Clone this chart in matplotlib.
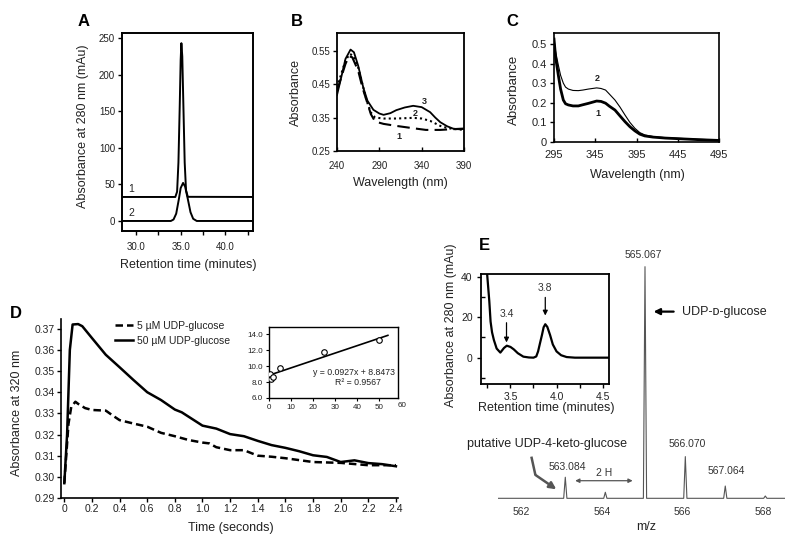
import numpy as np
import matplotlib
matplotlib.use("Agg")
import matplotlib.pyplot as plt
from matplotlib.ticker import FormatStrFormatter, FuncFormatter

plt.rcParams['font.family'] = ['Liberation Sans', 'DejaVu Sans']
plt.rcParams['text.color'] = '#222222'
plt.rcParams['xtick.color'] = 'black'
plt.rcParams['ytick.color'] = 'black'
plt.rcParams['xtick.labelcolor'] = '#222222'
plt.rcParams['ytick.labelcolor'] = '#222222'

# ---- data ----
# A: HPLC traces
a_t1 = [28.4, 34.4, 34.6, 34.75, 34.9, 35.0, 35.08, 35.18, 35.3, 35.45, 35.6, 35.8, 43.1]
a_y1 = [32.8, 32.8, 40, 80, 160, 220, 243, 225, 160, 80, 42, 33, 32.8]
a_t2 = [28.4, 33.9, 34.2, 34.5, 34.8, 35.0, 35.27, 35.5, 35.8, 36.1, 36.4, 36.8, 43.1]
a_y2 = [0, 0, 2, 10, 30, 45, 52, 47, 30, 12, 3, 0, 0]

# B: UV spectra
b_wl3 = [240, 245, 250, 256, 260, 265, 271, 276, 283, 290, 295, 303, 310, 320, 330, 340, 350, 356, 362, 370, 377, 383, 390]
b_ab3 = [0.417, 0.47, 0.525, 0.553, 0.545, 0.505, 0.44, 0.40, 0.373, 0.362, 0.358, 0.363, 0.372, 0.38, 0.385, 0.381,
         0.366, 0.35, 0.336, 0.324, 0.317, 0.315, 0.316]
b_wl2 = [240, 245, 250, 255, 259, 265, 270, 275, 280, 285, 295, 310, 320, 330, 340, 350, 362, 370, 377, 390]
b_ab2 = [0.44, 0.48, 0.52, 0.54, 0.535, 0.50, 0.45, 0.40, 0.365, 0.35, 0.347, 0.347, 0.348, 0.349, 0.347, 0.34,
         0.325, 0.319, 0.316, 0.313]
b_wl1 = [240, 245, 250, 254, 258, 265, 270, 275, 280, 285, 295, 310, 330, 345, 362, 375, 390]
b_ab1 = [0.43, 0.47, 0.51, 0.533, 0.53, 0.49, 0.44, 0.40, 0.36, 0.338, 0.331, 0.325, 0.318, 0.313, 0.313, 0.315, 0.317]

# C: spectra
c_wl = [295, 297, 300.2, 303, 306.3, 309, 312.4, 318, 324.5, 330, 336.6, 346.7, 352, 357.5, 362, 368.9, 375, 381,
        387, 393, 399, 405, 415, 430, 445, 470, 495]
c_ab2 = [0.525, 0.46, 0.393, 0.34, 0.30, 0.28, 0.27, 0.263, 0.262, 0.265, 0.27, 0.276, 0.273, 0.265, 0.245, 0.214,
         0.178, 0.138, 0.10, 0.07, 0.048, 0.036, 0.028, 0.022, 0.019, 0.014, 0.01]
c_ab1 = [0.525, 0.43, 0.342, 0.27, 0.214, 0.195, 0.189, 0.184, 0.184, 0.19, 0.197, 0.209, 0.207, 0.198, 0.183, 0.163,
         0.133, 0.104, 0.078, 0.057, 0.04, 0.031, 0.025, 0.02, 0.017, 0.012, 0.008]

# D: stopped-flow kinetics
d_t50 = [0, 0.02, 0.04, 0.06, 0.1, 0.13, 0.2, 0.3, 0.4, 0.5, 0.6, 0.7, 0.8, 0.85, 0.9, 1.0, 1.1, 1.2, 1.3, 1.4,
         1.5, 1.6, 1.7, 1.8, 1.9, 2.0, 2.1, 2.2, 2.3, 2.4]
d_a50 = [0.297, 0.32, 0.36, 0.372, 0.3722, 0.3712, 0.3656, 0.3577, 0.3518, 0.3458, 0.340, 0.3363, 0.3318, 0.3305,
         0.3284, 0.3242, 0.3228, 0.3202, 0.3192, 0.317, 0.315, 0.3137, 0.3121, 0.3102, 0.3094, 0.307, 0.3078,
         0.3065, 0.306, 0.305]
d_t5 = [0, 0.03, 0.05, 0.08, 0.1, 0.15, 0.2, 0.3, 0.35, 0.4, 0.5, 0.6, 0.7, 0.8, 0.9, 1.0, 1.05, 1.1, 1.2, 1.3,
        1.4, 1.5, 1.6, 1.8, 2.0, 2.2, 2.4]
d_a5 = [0.297, 0.325, 0.333, 0.3355, 0.3345, 0.3325, 0.3316, 0.3313, 0.329, 0.3268, 0.3252, 0.3237, 0.3208,
        0.3192, 0.3174, 0.3162, 0.3158, 0.314, 0.3126, 0.3126, 0.310, 0.3095, 0.3088, 0.307, 0.3066, 0.3055, 0.3055]
d_labels = ['5 µM UDP-glucose', '50 µM UDP-glucose']

# D inset: rate vs concentration
di_conc = [0.5, 1, 2, 5, 25, 50]
di_rate = [9.0, 8.4, 8.6, 9.7, 11.8, 13.3]
fit_slope, fit_icpt = 0.0927, 8.8473
fit_x = [0, 54]

# E inset: HPLC
e_t = [3.24, 3.27, 3.284, 3.30, 3.32, 3.35, 3.39, 3.43, 3.46, 3.50, 3.536, 3.58, 3.64, 3.70, 3.75, 3.78, 3.80,
       3.82, 3.842, 3.86, 3.878, 3.90, 3.93, 3.96, 4.0, 4.05, 4.11, 4.2, 4.6]
e_a = [45, 28, 17.8, 12.5, 8.7, 4.5, 2.5, 4.8, 5.9, 5.3, 4.1, 2.2, 0.5, 0.1, 0.0, 0.6, 3.1, 7.0, 11.2, 15.0,
       16.5, 15.2, 11.2, 6.5, 3.1, 1.2, 0.3, 0, 0]

# E: mass spectrum peaks (relative intensity)
ms_mz = [563.084, 564.08, 565.067, 566.070, 567.064, 568.06]
ms_int = [9.1, 2.6, 100, 18.0, 5.3, 1.0]
ms_lab = ['563.084', '', '565.067', '566.070', '567.064', '']

W, H = 800, 539


def box(l, t, r, b):
    return [l / W, 1 - b / H, (r - l) / W, (b - t) / H]


def ftext(px, py, s, size=9, rot=0, **kw):
    fig.text(px / W, 1 - py / H, s, fontsize=size, rotation=rot, ha='center', va='center', **kw)


def frame(ax, lw=1.2):
    for s in ax.spines.values():
        s.set_linewidth(lw)


fig = plt.figure(figsize=(8, 5.39), dpi=100)

# ---------------- A ----------------
ax = fig.add_axes(box(122, 33, 253, 231))
ax.plot(a_t1, a_y1, color='k', lw=1.4)
ax.plot(a_t2, a_y2, color='k', lw=1.4)
ax.set_xlim(28.43, 43.1)
ax.set_ylim(-13.7, 256.9)
ax.set_yticks(range(0, 251, 50))
ax.set_xticks([30, 35, 40])
ax.set_xticks([32.5, 37.5, 42.5], minor=True)
ax.xaxis.set_major_formatter(FormatStrFormatter('%.1f'))
ax.tick_params(axis='y', direction='out', length=3, width=1, labelsize=7, pad=2)
ax.tick_params(axis='x', which='both', direction='out', length=3, width=1, labelsize=7, pad=5)
frame(ax, 1.4)
ax.text(29.5, 44, '1', fontsize=7.5, ha='center', va='center')
ax.text(29.5, 11, '2', fontsize=7.5, ha='center', va='center')
ftext(83, 126, 'Absorbance at 280 nm (mAu)', rot=90)
ftext(188, 265, 'Retention time (minutes)')
ftext(84, 22, 'A', size=12, weight='bold', color='black')

# ---------------- B ----------------
ax = fig.add_axes(box(337, 33, 464, 151))
ax.plot(b_wl1, b_ab1, color='k', lw=1.5, ls=(0, (6, 3)))
ax.plot(b_wl2, b_ab2, color='k', lw=1.5, ls=(0, (1, 1.5)))
ax.plot(b_wl3, b_ab3, color='k', lw=1.3)
ax.set_xlim(240, 390)
ax.set_ylim(0.25, 0.6025)
ax.set_xticks([240, 290, 340, 390])
ax.set_yticks([0.25, 0.35, 0.45, 0.55])
ax.yaxis.set_major_formatter(FormatStrFormatter('%.2f'))
ax.tick_params(axis='y', direction='out', length=3, width=1, labelsize=7, pad=2)
ax.tick_params(axis='x', direction='in', length=3, width=1, labelsize=7, pad=7)
frame(ax, 1.3)
ax.text(343, 0.399, '3', fontsize=6.5, ha='center', va='center', weight='bold')
ax.text(332, 0.361, '2', fontsize=6.5, ha='center', va='center', weight='bold')
ax.text(313, 0.293, '1', fontsize=6.5, ha='center', va='center', weight='bold')
ftext(296, 92, 'Absorbance', rot=90)
ftext(400, 183, 'Wavelength (nm)')
ftext(297, 22, 'B', size=12, weight='bold', color='black')

# ---------------- C ----------------
ax = fig.add_axes(box(554, 33, 719, 142))
ax.plot(c_wl, c_ab1, color='k', lw=2.0)
ax.plot(c_wl, c_ab2, color='k', lw=0.8)
ax.set_xlim(295, 495)
ax.set_ylim(0, 0.556)
ax.set_xticks(range(295, 496, 50))
ax.set_yticks([0, 0.1, 0.2, 0.3, 0.4, 0.5])
ax.yaxis.set_major_formatter(FuncFormatter(lambda v, p: '0' if v == 0 else '%.1f' % v))
ax.tick_params(axis='y', direction='out', length=3, width=1, labelsize=8, pad=2)
ax.tick_params(axis='x', direction='in', length=3, width=1, labelsize=8, pad=6)
frame(ax, 1.2)
ax.text(348, 0.323, '2', fontsize=6.5, ha='center', va='center', weight='bold')
ax.text(348, 0.146, '1', fontsize=6.5, ha='center', va='center', weight='bold')
ftext(514, 90, 'Absorbance', rot=90, size=9.5)
ftext(637, 175, 'Wavelength (nm)')
ftext(512, 22, 'C', size=12, weight='bold', color='black')

# ---------------- D ----------------
ax = fig.add_axes(box(61, 319, 398, 498))
ax.plot(d_t5, d_a5, color='k', lw=1.8, ls=(0, (3, 1.6)), label=d_labels[0])
ax.plot(d_t50, d_a50, color='k', lw=1.8, label=d_labels[1])
ax.set_xlim(-0.024, 2.415)
ax.set_ylim(0.29, 0.3746)
ax.set_xticks(np.arange(0, 2.41, 0.2))
ax.set_yticks(np.arange(0.29, 0.3705, 0.01))
ax.xaxis.set_major_formatter(FuncFormatter(lambda v, p: '0' if abs(v) < 1e-9 else '%.1f' % v))
ax.yaxis.set_major_formatter(FormatStrFormatter('%.2f'))
ax.tick_params(direction='out', length=3, width=1, labelsize=7.5, pad=1.5)
ax.spines['top'].set_visible(False)
ax.spines['right'].set_visible(False)
ax.spines['left'].set_linewidth(1.2)
ax.spines['bottom'].set_linewidth(1.2)
ax.legend(loc='upper left', bbox_to_anchor=(0.16, 0.99), frameon=False, fontsize=7.5,
          handlelength=1.7, handletextpad=0.4, labelspacing=0.5, borderaxespad=0, borderpad=0)
ftext(17, 413, 'Absorbance at 320 nm', rot=90)
ftext(231, 528, 'Time (seconds)')
ftext(16, 314, 'D', size=12, weight='bold', color='black')

# D inset
ax = fig.add_axes(box(269, 327, 398, 398))
ax.plot(di_conc, di_rate, 'o', mfc='white', mec='k', ms=4, mew=0.8, zorder=3)
ax.plot(fit_x, [fit_slope * x + fit_icpt for x in fit_x], color='k', lw=1.2)
ax.set_xlim(0, 58.6)
ax.set_ylim(6, 14.9)
ax.set_xticks(range(0, 51, 10))
ax.set_yticks([6, 8, 10, 12, 14])
ax.yaxis.set_major_formatter(FormatStrFormatter('%.1f'))
ax.tick_params(direction='out', length=2, width=0.8, labelsize=5.8, pad=2.5)
frame(ax, 1.0)
ax.text(1.0, -0.06, '60', transform=ax.transAxes, fontsize=5.8, ha='left', va='top')
ax.text(38.6, 9.16, 'y = 0.0927x + 8.8473', fontsize=6.3, ha='center', va='center')
ax.text(40.4, 7.95, 'R² = 0.9567', fontsize=6.3, ha='center', va='center')

# ---------------- E ----------------
# mass spectrum
ms = fig.add_axes(box(498, 250, 785, 500))
hw = 0.04
px, py = [561.42], [0]
for m, h in zip(ms_mz, ms_int):
    px += [m - hw, m, m + hw]
    py += [0, h, 0]
px.append(568.54)
py.append(0)
ms.plot(px, py, color='#555555', lw=0.8)
ms.set_xlim(561.41, 568.55)
ms.set_ylim(-0.73, 107.2)
for s in ms.spines.values():
    s.set_visible(False)
ms.set_yticks([])
ms.set_xticks([562, 564, 566, 568])
ms.tick_params(axis='x', length=0, labelsize=7.5, pad=5, labelcolor='#333333')
lab_pos = {'563.084': (563.13, 13.6), '565.067': (565.03, 105.0),
           '566.070': (566.12, 23.3), '567.064': (567.09, 11.9)}
for lab in ms_lab:
    if lab:
        ms.text(*lab_pos[lab], lab, fontsize=7.5, ha='center', va='center', color='#333333', clip_on=False)
ms.annotate('', xy=(565.28, 80.6), xytext=(565.78, 80.6),
            arrowprops=dict(arrowstyle='-|>', color='black', lw=1.6, mutation_scale=9, shrinkA=0, shrinkB=0))
ms.text(565.98, 80.6, 'UDP-ᴅ-glucose', fontsize=9, ha='left', va='center', color='#222222')
ms.text(562.64, 23.3, 'putative UDP-4-keto-glucose', fontsize=9, ha='center', va='center', color='#222222')
ms.plot([562.24, 562.34], [18.0, 10.1], color='#555555', lw=1.8, solid_capstyle='butt')
ms.annotate('', xy=(562.86, 3.9), xytext=(562.34, 10.1),
            arrowprops=dict(arrowstyle='-|>', color='#555555', lw=1.8, mutation_scale=10, shrinkA=0, shrinkB=0))
ms.annotate('', xy=(563.33, 7.6), xytext=(564.76, 7.6),
            arrowprops=dict(arrowstyle='<|-|>', color='#555555', lw=0.9, mutation_scale=6, shrinkA=0, shrinkB=0))
ms.text(564.04, 11.1, '2 H', fontsize=7.5, ha='center', va='center', color='#333333')
ftext(646, 527, 'm/z', size=9)

# inset chromatogram
ax = fig.add_axes(box(481, 274, 609, 384))
ax.plot(e_t, e_a, color='k', lw=1.6)
ax.set_xlim(3.18, 4.57)
ax.set_ylim(-13, 41.3)
ax.set_xticks([3.5, 4.0, 4.5])
ax.set_xticks([3.25, 3.75, 4.25], minor=True)
ax.set_yticks([0, 20, 40])
ax.set_yticks([-10, 10, 30], minor=True)
ax.xaxis.set_major_formatter(FormatStrFormatter('%.1f'))
ax.tick_params(axis='y', direction='out', length=3, width=1, labelsize=7.5, pad=3)
ax.tick_params(axis='y', which='minor', direction='in', length=3, width=1)
ax.tick_params(axis='x', which='both', direction='out', length=3, width=1, labelsize=7.5, pad=3)
frame(ax, 1.3)
ax.annotate('3.4', xy=(3.457, 7.5), xytext=(3.457, 19.3), fontsize=7.5, ha='center', va='bottom',
            color='#333333',
            arrowprops=dict(arrowstyle='-|>', color='black', lw=0.9, mutation_scale=7, shrinkA=1, shrinkB=0))
ax.annotate('3.8', xy=(3.878, 20.8), xytext=(3.878, 31.8), fontsize=7.5, ha='center', va='bottom',
            color='#333333',
            arrowprops=dict(arrowstyle='-|>', color='black', lw=0.9, mutation_scale=7, shrinkA=1, shrinkB=0))
ftext(451, 325, 'Absorbance at 280 nm (mAu)', rot=90)
ftext(546, 408, 'Retention time (minutes)')
ftext(484, 246, 'E', size=12, weight='bold', color='black')

fig.savefig('out.png', dpi=100)
